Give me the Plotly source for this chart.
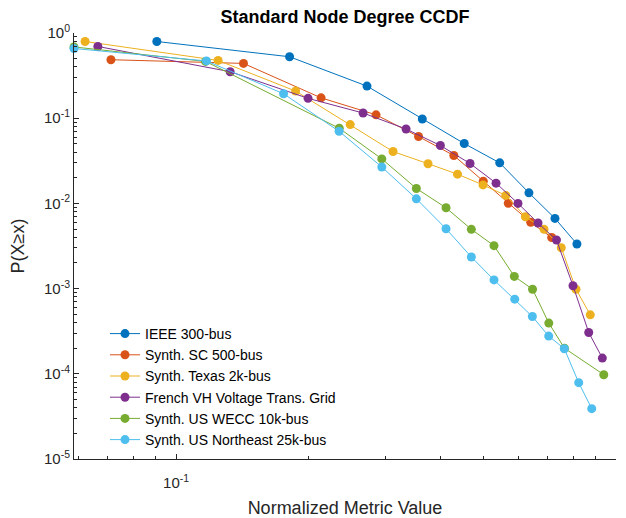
import numpy as np
import plotly.graph_objects as go

# ---------------- data ----------------
names = [
    "IEEE 300-bus",
    "Synth. SC 500-bus",
    "Synth. Texas 2k-bus",
    "French VH Voltage Trans. Grid",
    "Synth. US WECC 10k-bus",
    "Synth. US Northeast 25k-bus",
]

ieee300_x = [0.0904, 0.1811, 0.2716, 0.3628, 0.4519, 0.5441, 0.634, 0.7265, 0.815]
ieee300_y = [0.795, 0.526, 0.238, 0.0979, 0.0504, 0.0299, 0.0133, 0.00667, 0.00334]

sc500_x = [0.0711, 0.1423, 0.2136, 0.2848, 0.3557, 0.4279, 0.4992, 0.569, 0.6399, 0.7141]
sc500_y = [0.4856, 0.4395, 0.1733, 0.1096, 0.0609, 0.0365, 0.01824, 0.01003, 0.00599, 0.00398]

texas2k_x = [0.0621, 0.1246, 0.1869, 0.2488, 0.3113, 0.3738, 0.4362, 0.4985, 0.5617,
             0.6223, 0.6862, 0.751, 0.811, 0.874]
texas2k_y = [0.795, 0.4764, 0.2082, 0.0841, 0.0406, 0.02924, 0.02204, 0.01647, 0.01241,
             0.00697, 0.00496, 0.00302, 0.000984, 0.000492]

french_x = [0.0664, 0.1327, 0.1995, 0.2661, 0.3332, 0.3988, 0.4658, 0.5337, 0.5987,
            0.6649, 0.7323, 0.7985, 0.867, 0.931]
french_y = [0.695, 0.3513, 0.171, 0.115, 0.0747, 0.0478, 0.0294, 0.01729, 0.0100,
            0.00588, 0.00372, 0.00108, 0.000305, 0.000153]

wecc10k_x = [0.0586, 0.1167, 0.2349, 0.2935, 0.3517, 0.4108, 0.469, 0.528, 0.5873,
             0.6461, 0.7035, 0.7634, 0.938]
wecc10k_y = [0.686, 0.4637, 0.0762, 0.0333, 0.01498, 0.00888, 0.00496, 0.00319, 0.00139,
             0.000984, 0.000394, 0.0002, 0.0000976]

ne25k_x = [0.0586, 0.1172, 0.1755, 0.2347, 0.2935, 0.3517, 0.4108, 0.469, 0.528,
           0.5885, 0.6455, 0.7031, 0.763, 0.8227, 0.8807]
ne25k_y = [0.658, 0.47, 0.1936, 0.0702, 0.02676, 0.01132, 0.00504, 0.00235, 0.001264,
           0.000752, 0.00047, 0.000277, 0.000197, 0.0000787, 0.000039]

series_x = [ieee300_x, sc500_x, texas2k_x, french_x, wecc10k_x, ne25k_x]
series_y = [ieee300_y, sc500_y, texas2k_y, french_y, wecc10k_y, ne25k_y]

colors = ["#0072BD", "#D95319", "#EDB120", "#7E2F8E", "#77AC30", "#4DBEEE"]

x_min = 0.0586
x_major = [0.1, 1.0]
x_major_text = ["10<sup>-1</sup>", "10<sup>0</sup>"]
y_major = [1e-5, 1e-4, 1e-3, 1e-2, 1e-1, 1.0]
y_major_text = ["10<sup>-5</sup>", "10<sup>-4</sup>", "10<sup>-3</sup>",
                "10<sup>-2</sup>", "10<sup>-1</sup>", "10<sup>0</sup>"]

x_minor = [0.06, 0.07, 0.08, 0.09, 0.2, 0.3, 0.4, 0.5, 0.6, 0.7, 0.8, 0.9]
y_minor = [m * 10.0 ** e for e in range(-5, 0) for m in range(2, 10)]

# ---------------- figure ----------------
fig = go.Figure()
for name, xs, ys, c in zip(names, series_x, series_y, colors):
    fig.add_trace(go.Scatter(
        x=xs, y=ys, name=name, mode="lines+markers",
        line=dict(color=c, width=1),
        marker=dict(color=c, size=9, line=dict(width=0)),
        cliponaxis=False,
    ))

axis_color = "#262626"
FONT = "Liberation Sans, Arial, sans-serif"

fig.update_layout(
    width=626, height=518,
    margin=dict(l=74, r=10, t=33, b=59),
    paper_bgcolor="white", plot_bgcolor="white",
    font=dict(family=FONT, color=axis_color, size=15),
    title=dict(text="<b>Standard Node Degree CCDF</b>", x=0.5, xref="paper",
               y=1 - 17 / 518, yref="container", yanchor="middle",
               xanchor="center", font=dict(size=18, color="black")),
    showlegend=True,
    legend=dict(x=(105 - 74) / 542, y=1 - (318 - 33) / 426, xanchor="left", yanchor="top",
                bgcolor="rgba(0,0,0,0)", borderwidth=0,
                font=dict(size=14, color="black"), tracegroupgap=0),
    xaxis=dict(
        type="log", range=[np.log10(x_min), 0], automargin=False,
        showgrid=False, zeroline=False,
        showline=True, linecolor=axis_color, linewidth=1, mirror=False,
        ticks="inside", ticklen=5, tickcolor=axis_color,
        tickvals=x_major, ticktext=x_major_text,
        tickfont=dict(size=15, color=axis_color),
        ticklabelstandoff=10,
        minor=dict(tickvals=x_minor, ticks="inside", ticklen=3, tickcolor=axis_color,
                   showgrid=False),
        title=dict(text="Normalized Metric Value", font=dict(size=18, color=axis_color),
                   standoff=11),
    ),
    yaxis=dict(
        type="log", range=[-5, 0], automargin=False,
        showgrid=False, zeroline=False,
        showline=True, linecolor=axis_color, linewidth=1, mirror=False,
        ticks="inside", ticklen=5, tickcolor=axis_color,
        tickvals=y_major, ticktext=y_major_text,
        tickfont=dict(size=15, color=axis_color),
        minor=dict(tickvals=y_minor, ticks="inside", ticklen=3, tickcolor=axis_color,
                   showgrid=False),
        title=dict(text="P(X\u2265x)", font=dict(size=18, color=axis_color), standoff=14),
    ),
)

fig.write_html("out.html")
